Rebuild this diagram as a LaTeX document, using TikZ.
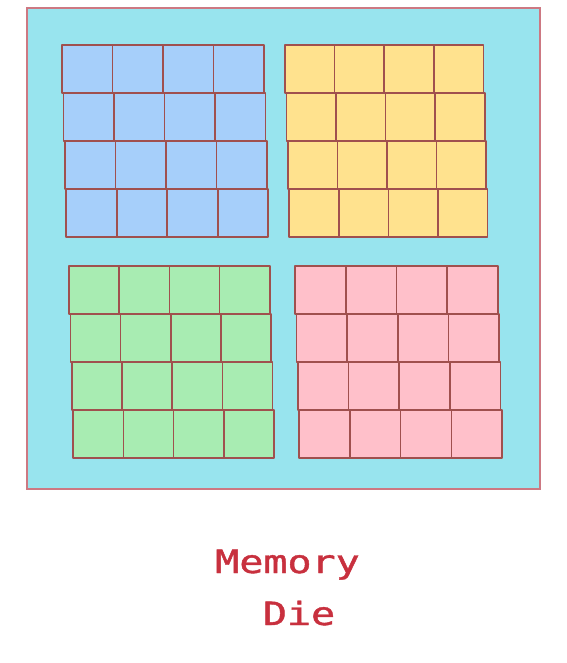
\documentclass[tikz,border=0pt]{standalone}
\usepackage{fontspec}
\newfontfamily\diemono[FakeBold=1.2]{DejaVu Sans Mono}
\definecolor{diebg}{RGB}{152,228,238}
\definecolor{dieedge}{RGB}{205,120,130}
\definecolor{celledge}{RGB}{160,80,78}
\definecolor{cblue}{RGB}{166,207,250}
\definecolor{cyellow}{RGB}{255,226,142}
\definecolor{cgreen}{RGB}{168,236,178}
\definecolor{cpink}{RGB}{255,192,202}
\definecolor{labelred}{RGB}{200,48,62}
\tikzset{
  diebox/.style={draw=dieedge, fill=diebg, line width=1.2pt},
  cellbox/.style={draw=celledge, line width=1.6pt, line join=round},
  dielabel/.style={text=labelred, font=\diemono\fontsize{32}{32}\selectfont, inner sep=0pt, anchor=base}
}
\newcommand{\cellgrid}[4]{% x0, y0, colour, width
  \foreach \r in {0,...,3}{
    \foreach \c in {0,...,3}{
      \pgfmathsetmacro{\xa}{#1+1.4*\r+#4*\c}
      \pgfmathsetmacro{\ya}{#2+48*\r}
      \draw[cellbox, fill=#3] (\xa,\ya) rectangle ++(#4,48);
    }
  }
}
\begin{document}
\begin{tikzpicture}[x=1pt,y=-1pt]
  \useasboundingbox (0,0) rectangle (566,663);
  \fill[white] (0,0) rectangle (566,663);
  \draw[diebox] (27,8) rectangle (540,489);
  \cellgrid{62}{45}{cblue}{50.5}
  \cellgrid{285}{45}{cyellow}{49.6}
  \cellgrid{69}{266}{cgreen}{50.2}
  \cellgrid{295}{266}{cpink}{50.7}
  \node[dielabel] (memory) at (287.5,573) {\scalebox{1.25}[1]{Memory}};
  \node[dielabel] (die) at (299,625) {\scalebox{1.25}[1]{Die}};
\end{tikzpicture}
\end{document}
